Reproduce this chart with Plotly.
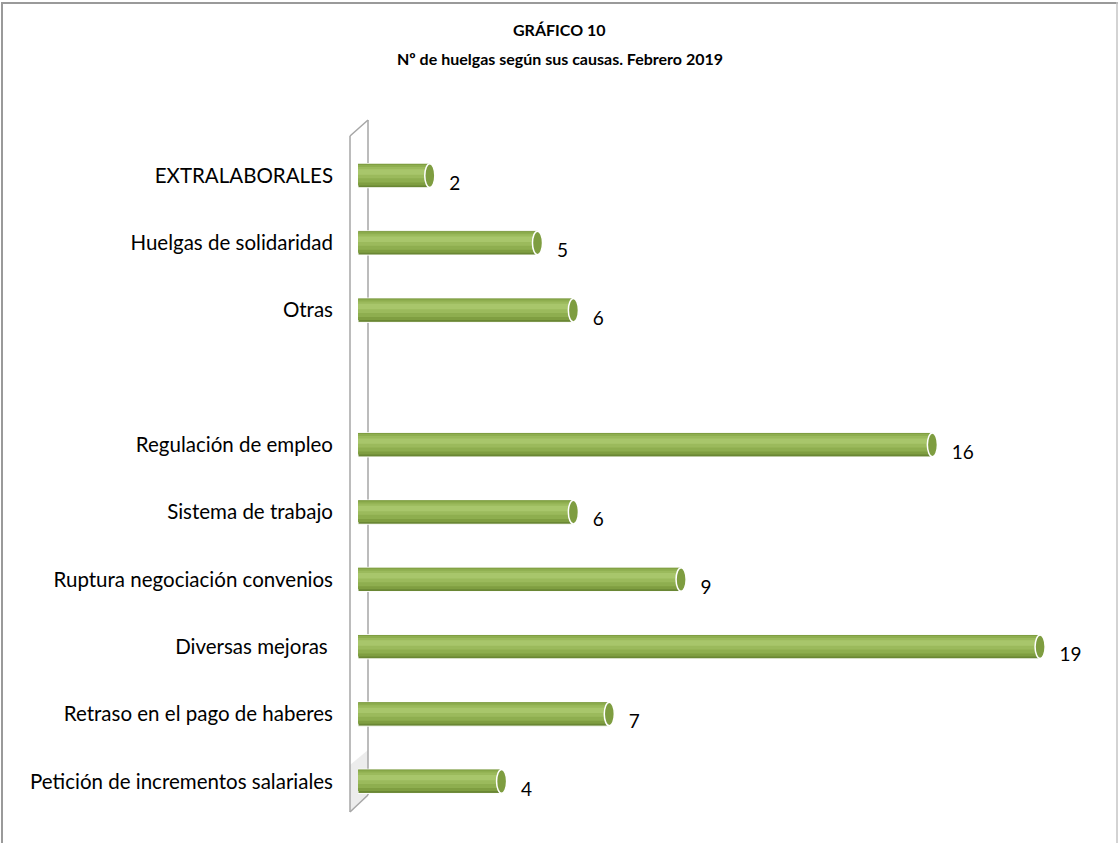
import plotly.graph_objects as go

# categories bottom -> top, the blank one is the gap between groups
causas = ['Petición de incrementos salariales', 'Retraso en el pago de haberes',
          'Diversas mejoras ', 'Ruptura negociación convenios', 'Sistema de trabajo',
          'Regulación de empleo', ' ', 'Otras', 'Huelgas de solidaridad', 'EXTRALABORALES']
huelgas = [4, 7, 19, 9, 6, 16, None, 6, 5, 2]

titulo = 'GRÁFICO 10'
subtitulo = 'Nº de huelgas según sus causas. Febrero 2019'

W, H = 1119, 843
ML, MR, MT, MB = 358, 19, 142, 28
pw, ph = W - ML - MR, H - MT - MB
px_per_unit = 35.9

def xp(px):
    return (px - ML) / pw

def yp(py):
    return (H - MB - py) / ph

fig = go.Figure()

# fake cylinder shading: stacked overlay bars, dark outside, light in the middle
bands = [
    (0.36, 0.0, '#6a8734'),
    (0.32, 0.015, '#7f9e41'),
    (0.26, 0.03, '#8eae4f'),
    (0.17, 0.045, '#9bba5c'),
    (0.08, 0.055, '#a8c66b'),
]
for i, (w, shift, col) in enumerate(bands):
    fig.add_trace(go.Bar(
        y=causas, x=huelgas, orientation='h',
        width=w, offset=-w / 2 + shift,
        marker=dict(color=col, line=dict(color='white' if i == 0 else col, width=1 if i == 0 else 0)),
        hoverinfo='skip' if i else None,
        showlegend=False,
    ))

# value labels
fig.add_trace(go.Scatter(
    y=causas, x=huelgas, mode='text',
    text=['    ' + str(v) if v is not None else '' for v in huelgas],
    textposition='bottom right',
    textfont=dict(family='Lato', size=19, color='black'),
    showlegend=False, hoverinfo='skip',
))

shapes = []
# end caps of the cylinders
for i, v in enumerate(huelgas):
    if v is None:
        continue
    shapes.append(dict(type='circle', xref='x', yref='y',
                       x0=v - 0.14, x1=v + 0.14, y0=i - 0.175, y1=i + 0.175,
                       fillcolor='#7e9d40', line=dict(color='white', width=1.5), layer='above'))

# 3D wall on the left
wall_col = '#a6a6a6'
shapes += [
    dict(type='path', xref='paper', yref='paper', layer='below',
         path=f'M {xp(350)} {yp(812)} L {xp(350)} {yp(765)} L {xp(368)} {yp(750)} L {xp(368)} {yp(795)} Z',
         fillcolor='#ececec', line=dict(width=0)),
    dict(type='line', xref='paper', yref='paper', layer='below',
         x0=xp(350), x1=xp(350), y0=yp(812), y1=yp(136), line=dict(color=wall_col, width=1.5)),
    dict(type='line', xref='paper', yref='paper', layer='below',
         x0=xp(368), x1=xp(368), y0=yp(795), y1=yp(120), line=dict(color=wall_col, width=1.5)),
    dict(type='line', xref='paper', yref='paper', layer='below',
         x0=xp(350), x1=xp(368), y0=yp(136), y1=yp(120), line=dict(color=wall_col, width=1.5)),
    dict(type='line', xref='paper', yref='paper', layer='below',
         x0=xp(350), x1=xp(368), y0=yp(812), y1=yp(795), line=dict(color=wall_col, width=1.5)),
]

# outer frame (top, left, right)
shapes += [
    dict(type='line', xref='paper', yref='paper', x0=xp(1), x1=xp(1118), y0=yp(3), y1=yp(3),
         line=dict(color='#9a9a9a', width=2)),
    dict(type='line', xref='paper', yref='paper', x0=xp(2), x1=xp(2), y0=yp(2), y1=yp(843),
         line=dict(color='#9a9a9a', width=2)),
    dict(type='line', xref='paper', yref='paper', x0=xp(1117), x1=xp(1117), y0=yp(2), y1=yp(843),
         line=dict(color='#c4c4c4', width=1.5)),
]

title_font = dict(family='Lato', size=16, color='black')
fig.update_layout(
    width=W, height=H,
    margin=dict(l=ML, r=MR, t=MT, b=MB),
    barmode='overlay',
    plot_bgcolor='white', paper_bgcolor='white',
    font=dict(family='Lato', color='black'),
    shapes=shapes,
    annotations=[
        dict(text=f'<b>{titulo}</b>', xref='paper', yref='paper', x=xp(W / 2), y=yp(30),
             xanchor='center', yanchor='middle', showarrow=False, font=title_font),
        dict(text=f'<b>{subtitulo}</b>', xref='paper', yref='paper', x=xp(W / 2), y=yp(58),
             xanchor='center', yanchor='middle', showarrow=False, font=title_font),
    ],
)
fig.update_xaxes(range=[0, pw / px_per_unit], visible=False, fixedrange=True)
fig.update_yaxes(
    categoryorder='array', categoryarray=causas,
    range=[-0.5, len(causas) - 0.5],
    showgrid=False, zeroline=False, showline=False, ticks='',
    ticklabelstandoff=24, automargin=False,
    tickfont=dict(family='Lato', size=20.5, color='black'),
)

# page has a default 8px body margin; drop it so the figure sits at 0,0
fig.write_html('out.html', config={'displayModeBar': False},
               post_script="document.body.style.margin='0';")
